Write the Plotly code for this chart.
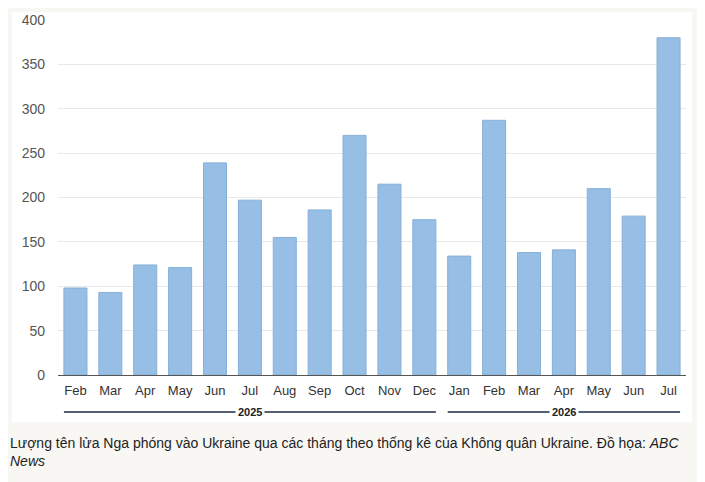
import plotly.graph_objects as go

## DATA
months = ['Feb', 'Mar', 'Apr', 'May', 'Jun', 'Jul', 'Aug', 'Sep', 'Oct', 'Nov', 'Dec',
          'Jan', 'Feb', 'Mar', 'Apr', 'May', 'Jun', 'Jul']
missiles = [98, 93, 124, 121, 239, 197, 155, 186, 270, 215, 175,
            134, 287, 138, 141, 210, 179, 380]
years = ['2025', '2026']
year_start = [0, 11]   # index of first month of each year
year_end = [10, 17]    # index of last month
y_ticks = [0, 50, 100, 150, 200, 250, 300, 350, 400]
caption = ('Lượng tên lửa Nga phóng vào Ukraine qua các tháng theo thống kê của Không quân Ukraine. '
           'Đồ họa: <i>ABC<br>News</i>')

xpos = list(range(len(months)))
half = 0.33  # half bar width

fig = go.Figure()
fig.add_trace(go.Bar(
    x=xpos, y=missiles,
    width=2 * half,
    marker=dict(color='#97bfe5', line=dict(color='#86afd6', width=1)),
    hoverinfo='skip', showlegend=False))

#white panel behind the chart, page is off-white
fig.add_shape(type='rect', xref='paper', yref='paper',
              x0=-0.0732, x1=1.0096, y0=-0.1324, y1=1.0225,
              fillcolor='white', line=dict(width=0), layer='below')

#year brackets under month labels
for yr, s, e in zip(years, year_start, year_end):
    fig.add_shape(type='line', xref='x', yref='paper',
                  x0=s - half, x1=e + half, y0=-0.1042, y1=-0.1042,
                  line=dict(color='#1c2b45', width=1.3))
    fig.add_annotation(x=(s + e) / 2, y=-0.1042, xref='x', yref='paper',
                       xanchor='center', yanchor='middle',
                       text='<b>' + yr + '</b>', showarrow=False,
                       bgcolor='white', borderpad=2,
                       font=dict(family='Liberation Sans, Arial', size=11, color='#222'))

fig.add_annotation(x=-0.079, y=-0.162, xref='paper', yref='paper',
                   xanchor='left', yanchor='top', align='left',
                   text=caption, showarrow=False,
                   font=dict(family='Liberation Sans, Arial', size=14, color='#222'))

#page body has 8px margin, so margins are shifted by 8px
fig.update_layout(
    width=705, height=482,
    margin=dict(l=50, r=27, t=12, b=115),
    paper_bgcolor='#f8f7f3', plot_bgcolor='white',
    bargap=0.34,
    font=dict(family='Liberation Sans, Arial', size=13, color='#444'),
    xaxis=dict(tickvals=xpos, ticktext=months, range=[-0.5, len(months) - 0.5],
               showgrid=False, zeroline=False, ticks='', automargin=False,
               ticklabelstandoff=6, tickfont=dict(size=13, color='#333')),
    yaxis=dict(tickvals=y_ticks, range=[0, 400], showgrid=True, gridcolor='#e8e8e8',
               zeroline=True, zerolinecolor='#555', zerolinewidth=1.3, ticks='',
               automargin=False,
               ticklabelstandoff=12, tickfont=dict(size=14, color='#555')),
)

fig.write_html("out.html")
